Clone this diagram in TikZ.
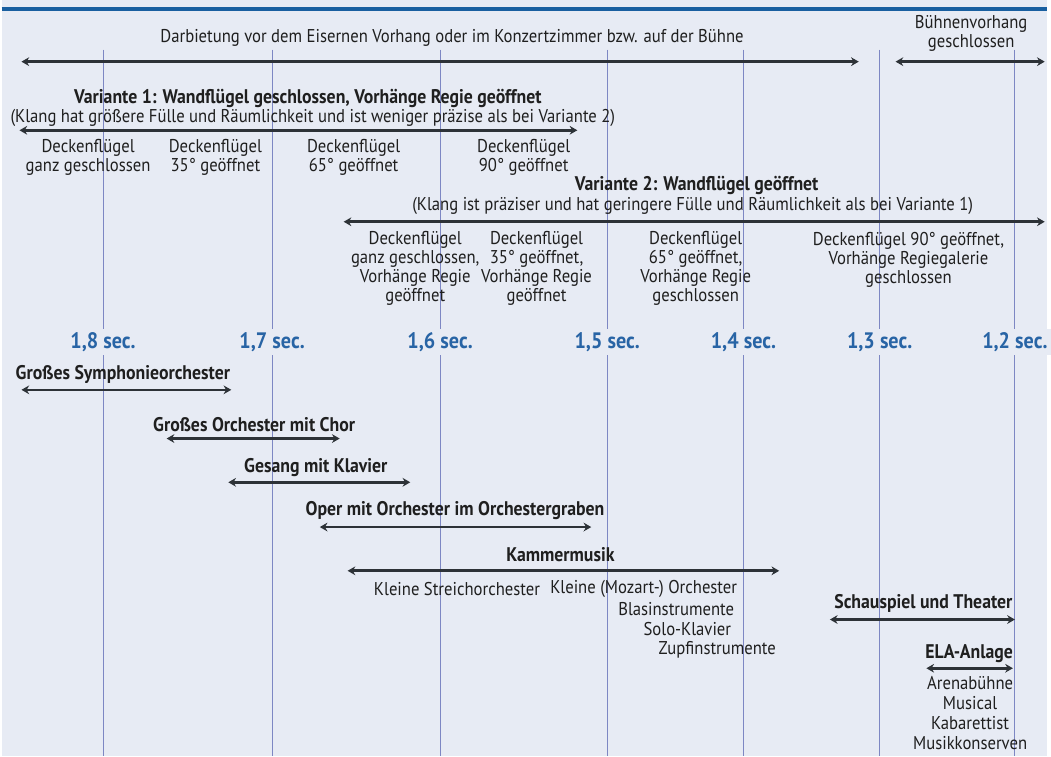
\documentclass[tikz,border=0pt]{standalone}
\usepackage{fontspec}
\setmainfont{PT Sans}[FakeStretch=0.9]
\usetikzlibrary{arrows.meta}
\definecolor{bgblue}{RGB}{231,235,244}
\definecolor{lineblue}{RGB}{125,135,195}
\definecolor{secblue}{RGB}{40,100,165}
\definecolor{topblue}{RGB}{25,95,160}
\definecolor{arrgray}{RGB}{45,50,55}

\begin{document}
\begin{tikzpicture}[x=0.02cm,y=-0.02cm,
  txt/.style={font=\fontsize{10.6}{10.8}\selectfont,align=center,inner sep=0pt,text=black!88},
  hdr/.style={txt,font=\fontsize{11.3}{11}\selectfont\bfseries},
  sec/.style={font=\fontsize{12.8}{13}\selectfont\bfseries,text=secblue,fill=bgblue,inner sep=2pt},
  secline/.style={lineblue,line width=0.55pt},
  dbl/.style={{Stealth[length=4.4pt,width=5pt]}-{Stealth[length=4.4pt,width=5pt]},arrgray,line width=1.5pt}
]
  \fill[bgblue] (0,0) rectangle (1051,760);
  \coordinate (topL) at (0,9);
  \coordinate (topR) at (1051,9);
  \draw[topblue,line width=1.8pt] (topL) -- (topR);

  % Nachhallzeiten
  \foreach \x/\t in {102/8,272/7,441/6,609/5,746/4,883/3,1019/2}{
    \coordinate (lt\t) at (\x,50);
    \coordinate (lb\t) at (\x,760);
    \draw[secline] (lt\t) -- (lb\t);
    \node[sec] (sec\t) at (\x,344) {1,\t\ sec.};
  }

  % Darbietung
  \node[txt] (darb) at (453,38) {Darbietung vor dem Eisernen Vorhang oder im Konzertzimmer bzw. auf der Bühne};
  \coordinate (darbL) at (20,62);
  \coordinate (darbR) at (862,62);
  \draw[dbl] (darbL) -- (darbR);
  \node[txt] (buehne) at (975,34) {Bühnenvorhang\\geschlossen};
  \coordinate (buehneL) at (899,62);
  \coordinate (buehneR) at (1049,62);
  \draw[dbl] (buehneL) -- (buehneR);

  % Variante 1
  \node[hdr] (v1) at (308,99) {Variante 1: Wandflügel geschlossen, Vorhänge Regie geöffnet};
  \node[txt] (v1note) at (313,119) {(Klang hat größere Fülle und Räumlichkeit und ist weniger präzise als bei Variante 2)};
  \coordinate (v1L) at (18,131);
  \coordinate (v1R) at (579,131);
  \draw[dbl] (v1L) -- (v1R);
  \node[txt] (v1a) at (87,158) {Deckenflügel\\ganz geschlossen};
  \node[txt] (v1b) at (215,158) {Deckenflügel\\35° geöffnet};
  \node[txt] (v1c) at (354,158) {Deckenflügel\\65° geöffnet};
  \node[txt] (v1d) at (525,158) {Deckenflügel\\90° geöffnet};

  % Variante 2
  \node[hdr] (v2) at (699,187) {Variante 2: Wandflügel geöffnet};
  \node[txt] (v2note) at (695,207) {(Klang ist präziser und hat geringere Fülle und Räumlichkeit als bei Variante 1)};
  \coordinate (v2L) at (344,223);
  \coordinate (v2R) at (1049,223);
  \draw[dbl] (v2L) -- (v2R);
  \node[txt] (v2a) at (416,270) {Deckenflügel\\ganz geschlossen,\\Vorhänge Regie\\geöffnet};
  \node[txt] (v2b) at (538,270) {Deckenflügel\\35° geöffnet,\\Vorhänge Regie\\geöffnet};
  \node[txt] (v2c) at (698,270) {Deckenflügel\\65° geöffnet,\\Vorhänge Regie\\geschlossen};
  \node[txt] (v2d) at (912,261) {Deckenflügel 90° geöffnet,\\Vorhänge Regiegalerie\\geschlossen};

  % Besetzungen
  \node[hdr] (gso) at (122,377) {Großes Symphonieorchester};
  \coordinate (gsoL) at (20,392);
  \coordinate (gsoR) at (231,392);
  \draw[dbl] (gsoL) -- (gsoR);
  \node[hdr] (goc) at (254,427) {Großes Orchester mit Chor};
  \coordinate (gocL) at (166,441);
  \coordinate (gocR) at (340,441);
  \draw[dbl] (gocL) -- (gocR);
  \node[hdr] (gmk) at (316,470) {Gesang mit Klavier};
  \coordinate (gmkL) at (228,485);
  \coordinate (gmkR) at (411,485);
  \draw[dbl] (gmkL) -- (gmkR);
  \node[hdr] (oper) at (456,513) {Oper mit Orchester im Orchestergraben};
  \coordinate (operL) at (320,530);
  \coordinate (operR) at (593,530);
  \draw[dbl] (operL) -- (operR);
  \node[hdr] (kammer) at (562,558) {Kammermusik};
  \coordinate (kammerL) at (348,574);
  \coordinate (kammerR) at (782,574);
  \draw[dbl] (kammerL) -- (kammerR);
  \node[txt] (streich) at (458,592) {Kleine Streichorchester};
  \node[txt,anchor=east] (mozart) at (740,592) {Kleine (Mozart-) Orchester};
  \node[txt,anchor=east] (blas) at (737,612) {Blasinstrumente};
  \node[txt,anchor=east] (solo) at (734,633) {Solo-Klavier};
  \node[txt,anchor=east] (zupf) at (779,653) {Zupfinstrumente};
  \node[hdr] (schau) at (927,607) {Schauspiel und Theater};
  \coordinate (schauL) at (833,623);
  \coordinate (schauR) at (1019,623);
  \draw[dbl] (schauL) -- (schauR);
  \node[hdr] (ela) at (973,657) {ELA-Anlage};
  \coordinate (elaL) at (930,672);
  \coordinate (elaR) at (1017,672);
  \draw[dbl] (elaL) -- (elaR);
  \node[txt,font=\fontsize{10.6}{11.3}\selectfont] (elalist) at (974,717) {Arenabühne\\Musical\\Kabarettist\\Musikkonserven};
\end{tikzpicture}
\end{document}
